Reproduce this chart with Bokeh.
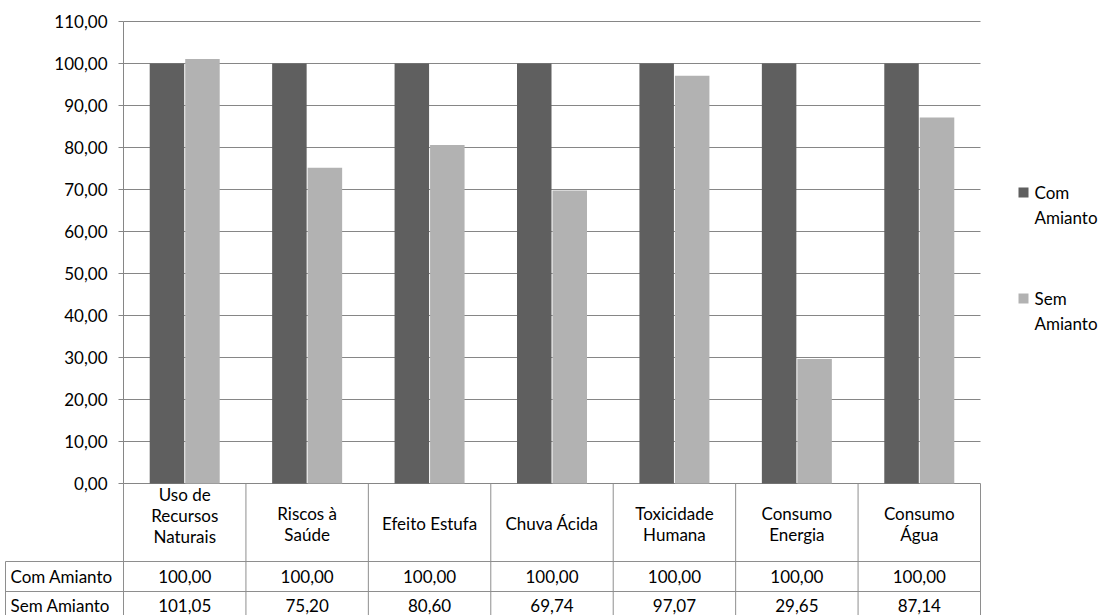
import numpy as np
from bokeh.plotting import figure
from bokeh.models import Range1d, LinearAxis, FixedTicker
from bokeh.core.properties import value
from bokeh.embed import file_html
from bokeh.resources import INLINE

# ---------------- data ----------------
categories = ["Uso de\nRecursos\nNaturais", "Riscos à\nSaúde", "Efeito Estufa",
              "Chuva Ácida", "Toxicidade\nHumana", "Consumo\nEnergia", "Consumo\nÁgua"]
series_names = ["Com Amianto", "Sem Amianto"]
com_amianto = [100.00, 100.00, 100.00, 100.00, 100.00, 100.00, 100.00]
sem_amianto = [101.05, 75.20, 80.60, 69.74, 97.07, 29.65, 87.14]
y_ticks = [0, 10, 20, 30, 40, 50, 60, 70, 80, 90, 100, 110]
y_tick_labels = ["0,00", "10,00", "20,00", "30,00", "40,00", "50,00", "60,00",
                 "70,00", "80,00", "90,00", "100,00", "110,00"]
legend_labels = ["Com\nAmianto", "Sem\nAmianto"]

# ---------------- layout constants ----------------
W, H = 1118, 615
X0 = 123.0                 # px of first column boundary (y axis)
COL = (980.0 - X0) / 7.0   # px per category
Y0 = 483.0                 # px of value 0
PXU = 4.2                  # px per value unit

def xpx(px):
    return (px - X0) / COL

def ypx(px):
    return (Y0 - px) / PXU

FONT = value("Lato")
FS = "17px"
DARK = "#5f5f5f"
LIGHT = "#b2b2b2"
GRID = "#868686"
TABLE = "#8e8e8e"

p = figure(width=W, height=H, output_backend="svg", toolbar_location=None,
           x_range=Range1d(xpx(0), xpx(W)), y_range=Range1d(ypx(H), ypx(0)),
           x_axis_location=None, y_axis_location=None,
           min_border=0, min_border_left=0, min_border_right=0,
           min_border_top=0, min_border_bottom=0)
p.outline_line_color = None
p.xgrid.visible = False
p.ygrid.visible = False
p.background_fill_color = "white"
p.border_fill_color = "white"

n = len(categories)
xc = np.arange(n) + 0.5

# grid lines
p.segment(x0=[0] * len(y_ticks), x1=[n] * len(y_ticks), y0=y_ticks, y1=y_ticks,
          line_color=GRID, line_width=1)

# bars
bw = 34.5 / COL
p.vbar(x=xc - bw / 2 - 0.5 / COL, top=com_amianto, width=bw, bottom=0,
       fill_color=DARK, line_color=None)
p.vbar(x=xc + bw / 2 + 0.5 / COL, top=sem_amianto, width=bw, bottom=0,
       fill_color=LIGHT, line_color=None)

# y axis at x=0
yaxis = LinearAxis(fixed_location=0, ticker=FixedTicker(ticks=y_ticks), bounds=(0, 110))
yaxis.major_label_overrides = {t: l for t, l in zip(y_ticks, y_tick_labels)}
yaxis.axis_line_color = GRID
yaxis.major_tick_line_color = GRID
yaxis.minor_tick_line_color = None
yaxis.major_tick_in = 0
yaxis.major_tick_out = 5
yaxis.major_label_standoff = 11
yaxis.major_label_text_font = "Lato"
yaxis.major_label_text_font_size = FS
yaxis.major_label_text_color = "black"
p.add_layout(yaxis, "left")

# data table
y_bottom = ypx(H)
row1_top = ypx(561)
row2_top = ypx(591)
left_edge = xpx(5)
# vertical lines
p.segment(x0=list(range(n + 1)), x1=list(range(n + 1)),
          y0=[0] * (n + 1), y1=[y_bottom] * (n + 1), line_color=TABLE, line_width=1)
p.segment(x0=[left_edge], x1=[left_edge], y0=[row1_top], y1=[y_bottom],
          line_color=TABLE, line_width=1)
# horizontal lines
p.segment(x0=[left_edge, left_edge], x1=[n, n], y0=[row1_top, row2_top],
          y1=[row1_top, row2_top], line_color=TABLE, line_width=1)

# header labels
hy = [ypx(515) if c.count("\n") >= 2 else ypx(523) for c in categories]
p.text(x=xc, y=hy, text=categories, text_font=FONT, text_font_size=FS,
       text_align="center", text_baseline="middle", text_line_height=1.0,
       text_color="black")

# row labels and values
fmt = lambda v: f"{v:.2f}".replace(".", ",")
row_y = [ypx(576), ypx(605)]
p.text(x=[xpx(10)] * 2, y=row_y, text=series_names, text_font=FONT, text_font_size=FS,
       text_align="left", text_baseline="middle", text_color="black")
p.text(x=xc, y=[row_y[0]] * n, text=[fmt(v) for v in com_amianto], text_font=FONT,
       text_font_size=FS, text_align="center", text_baseline="middle", text_color="black")
p.text(x=xc, y=[row_y[1]] * n, text=[fmt(v) for v in sem_amianto], text_font=FONT,
       text_font_size=FS, text_align="center", text_baseline="middle", text_color="black")

# legend
leg_y = [ypx(192), ypx(298)]
p.rect(x=[xpx(1023)] * 2, y=leg_y, width=10 / COL, height=10 / PXU,
       fill_color=[DARK, LIGHT], line_color=None)
p.text(x=[xpx(1034)] * 2, y=leg_y, text=legend_labels,
       text_font=FONT, text_font_size=FS, text_align="left", text_baseline="top",
       text_line_height=1.2, text_color="black", y_offset=-11)

open("out.html", "w").write(file_html(p, INLINE))
